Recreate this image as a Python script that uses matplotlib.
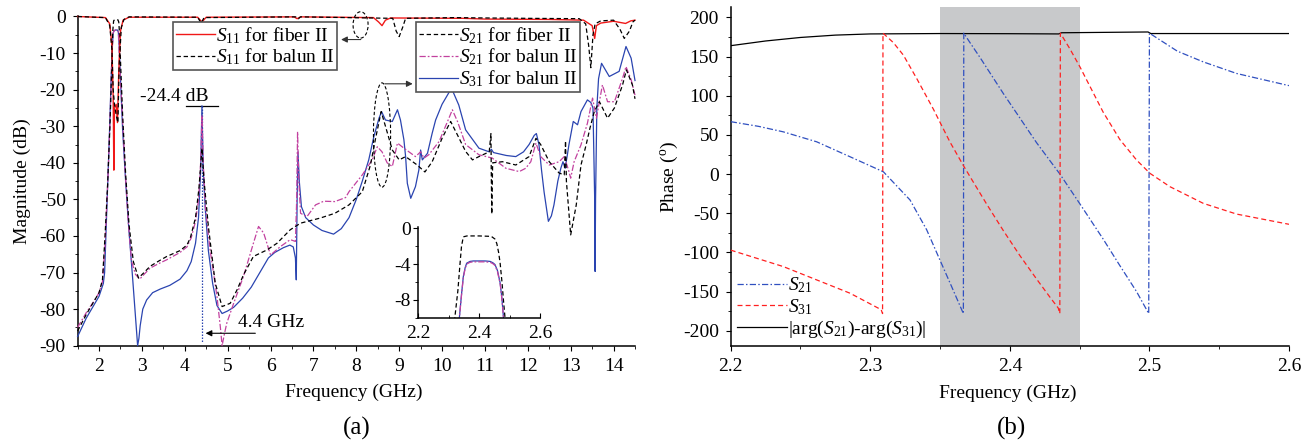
import matplotlib
matplotlib.use("Agg")
import matplotlib.pyplot as plt
from matplotlib.patches import Ellipse
from matplotlib.lines import Line2D
from matplotlib.ticker import MultipleLocator

# ---------------- (a) magnitude responses, 1.5-14.5 GHz ----------------
f_s11_fiber = [1.5, 2.15, 2.25, 2.3, 2.33, 2.345, 2.36, 2.4, 2.43, 2.46, 2.5, 2.56, 2.7,
               4.3, 4.4, 4.5, 6.55, 6.62, 6.7, 8.4, 8.52, 8.6, 8.68, 8.8, 10.5, 11.0,
               12.5, 13.3, 13.5, 13.56, 13.6, 13.7, 14.0, 14.28, 14.4, 14.5]
db_s11_fiber = [0.0, -0.3, -2.0, -8.0, -22.0, -42.0, -25.0, -24.0, -29.0, -15.0, -4.0, -1.0, -0.2,
                -0.2, -1.5, -0.2, -0.1, -0.6, -0.1, -0.3, -1.5, -2.5, -1.0, -0.4, -0.5, -0.7,
                -0.8, -1.0, -2.5, -6.0, -2.5, -1.8, -1.3, -1.9, -1.2, -1.0]

f_s11_balun = [1.5, 2.15, 2.25, 2.3, 2.33, 2.36, 2.4, 2.44, 2.47, 2.52, 2.58, 2.7,
               4.3, 4.38, 4.45, 6.6, 6.65, 6.7, 8.85, 8.93, 9.0, 9.08, 9.15, 10.3,
               11.0, 12.0, 13.2, 13.35, 13.42, 13.47, 13.52, 13.57, 13.7, 14.0, 14.15,
               14.25, 14.37, 14.45, 14.5]
db_s11_balun = [0.0, -0.3, -2.5, -9.0, -20.0, -24.0, -27.0, -29.0, -13.0, -3.0, -0.8, -0.1,
                -0.2, -1.8, -0.3, -0.1, -0.6, -0.1, -0.5, -4.0, -5.5, -3.0, -0.5, -0.3,
                -0.4, -0.5, -0.6, -2.0, -8.0, -14.0, -5.0, -2.0, -1.2, -1.0, -3.5,
                -6.0, -4.0, -1.5, -1.0]

f_s21_fiber = [1.5, 1.7, 1.9, 2.0, 2.08, 2.14, 2.2, 2.26, 2.3, 2.32, 2.34, 2.36, 2.44, 2.46,
               2.48, 2.5, 2.55, 2.62, 2.7, 2.8, 2.92, 3.05, 3.19, 3.4, 3.58, 3.89, 4.05,
               4.13, 4.25, 4.33, 4.4, 4.45, 4.55, 4.71, 4.87, 5.06, 5.22, 5.37, 5.6, 5.92,
               6.15, 6.46, 6.7, 7.16, 7.5, 7.83, 8.14, 8.33, 8.45, 8.58, 8.68, 8.84, 9.0,
               9.15, 9.42, 9.6, 9.77, 10.0, 10.2, 10.36, 10.55, 10.71, 10.86, 11.1, 11.14,
               11.15, 11.16, 11.18, 11.41, 11.72, 12.03, 12.19, 12.3, 12.5, 12.73, 12.85,
               12.88, 12.9, 13.0, 13.13, 13.24, 13.36, 13.45, 13.55, 13.67, 13.86, 14.02,
               14.21, 14.3, 14.44, 14.5]
db_s21_fiber = [-86.0, -81.5, -77.5, -75.5, -72.0, -60.0, -46.0, -28.0, -12.0, -4.0, -1.2, -0.9,
                -0.9, -1.5, -5.0, -12.0, -27.0, -43.0, -57.0, -67.0, -71.5, -70.0, -68.3,
                -66.8, -65.6, -64.0, -62.5, -60.5, -55.0, -47.0, -36.0, -45.0, -57.4, -72.9,
                -79.3, -78.4, -74.7, -70.6, -65.6, -63.8, -62.0, -58.3, -56.5, -55.1, -53.8,
                -51.5, -47.9, -40.6, -33.3, -26.0, -30.0, -36.5, -39.2, -38.3, -40.6, -42.5,
                -39.7, -33.3, -28.7, -32.4, -36.9, -39.2, -38.3, -37.0, -32.0, -45.0, -54.0,
                -40.0, -39.7, -40.6, -38.3, -33.3, -35.0, -39.7, -42.8, -43.3, -34.0, -45.0,
                -59.7, -51.5, -40.6, -35.1, -30.5, -26.0, -23.3, -27.8, -25.0, -18.7, -14.6,
                -18.7, -22.5]

f_s21_balun = [1.5, 1.7, 1.9, 2.0, 2.08, 2.14, 2.18, 2.22, 2.26, 2.3, 2.33, 2.35, 2.38, 2.43,
               2.45, 2.47, 2.53, 2.61, 2.68, 2.76, 2.85, 2.95, 3.05, 3.19, 3.4, 3.58, 3.89,
               4.05, 4.15, 4.25, 4.32, 4.37, 4.4, 4.43, 4.48, 4.59, 4.75, 4.83, 4.87, 4.92,
               4.98, 5.14, 5.37, 5.6, 5.72, 5.84, 6.0, 6.23, 6.46, 6.58, 6.61, 6.63, 6.66,
               6.7, 6.85, 7.05, 7.24, 7.5, 7.75, 7.83, 8.14, 8.37, 8.49, 8.6, 8.72, 8.84,
               8.96, 9.11, 9.38, 9.5, 9.58, 9.69, 9.93, 10.16, 10.24, 10.36, 10.55, 10.86,
               11.17, 11.49, 11.8, 11.95, 12.07, 12.19, 12.3, 12.5, 12.73, 12.85, 12.95,
               13.0, 13.08, 13.24, 13.39, 13.51, 13.6, 13.74, 13.86, 14.02, 14.21, 14.29,
               14.41, 14.5]
db_s21_balun = [-85.0, -81.0, -77.5, -75.5, -72.5, -62.4, -51.5, -40.6, -27.0, -10.5, -4.5, -3.9,
                -3.7, -3.7, -4.2, -10.5, -24.0, -42.4, -56.0, -67.0, -70.5, -71.8, -70.5,
                -68.8, -67.5, -66.5, -64.5, -63.0, -60.5, -56.0, -50.0, -40.0, -27.0, -40.0,
                -52.0, -63.8, -76.5, -85.0, -90.0, -87.0, -83.8, -78.4, -71.0, -62.0, -57.4,
                -59.2, -65.2, -62.9, -61.0, -61.5, -50.0, -31.5, -45.0, -53.8, -54.7, -51.5,
                -50.5, -50.6, -49.5, -47.9, -43.3, -39.2, -35.6, -37.0, -40.0, -41.0, -34.6,
                -36.0, -38.3, -37.0, -38.7, -37.8, -34.2, -27.8, -25.5, -28.7, -35.0, -37.8,
                -38.7, -41.5, -42.4, -41.5, -39.7, -34.6, -38.3, -40.6, -39.7, -38.3, -42.0,
                -44.2, -39.7, -35.1, -29.2, -22.3, -27.8, -18.7, -23.3, -23.3, -16.9, -13.7,
                -17.3, -21.5]

f_s31_balun = [1.5, 1.7, 1.9, 2.0, 2.1, 2.13, 2.16, 2.2, 2.24, 2.28, 2.31, 2.33, 2.35, 2.38,
               2.43, 2.45, 2.47, 2.5, 2.55, 2.62, 2.7, 2.78, 2.85, 2.9, 2.93, 2.96, 3.02,
               3.11, 3.25, 3.43, 3.65, 3.89, 4.05, 4.15, 4.25, 4.32, 4.37, 4.4, 4.43, 4.48,
               4.55, 4.65, 4.75, 4.87, 5.0, 5.14, 5.35, 5.55, 5.75, 5.95, 6.1, 6.3, 6.45,
               6.53, 6.58, 6.6, 6.62, 6.64, 6.67, 6.72, 6.82, 7.0, 7.2, 7.47, 7.65, 7.83,
               8.0, 8.14, 8.29, 8.41, 8.53, 8.59, 8.68, 8.84, 8.96, 9.03, 9.11, 9.15, 9.19,
               9.27, 9.38, 9.46, 9.5, 9.54, 9.66, 9.77, 9.85, 10.0, 10.22, 10.39, 10.55,
               10.86, 11.1, 11.15, 11.2, 11.5, 11.72, 11.9, 12.03, 12.15, 12.2, 12.26, 12.32,
               12.38, 12.48, 12.55, 12.61, 12.7, 12.77, 12.82, 12.87, 12.92, 12.96, 13.06,
               13.16, 13.24, 13.39, 13.47, 13.52, 13.56, 13.57, 13.58, 13.61, 13.65, 13.72,
               13.9, 14.13, 14.29, 14.41, 14.5]
db_s31_balun = [-87.5, -82.5, -78.5, -76.5, -73.0, -70.0, -60.0, -46.0, -33.0, -18.0, -8.0, -4.5,
                -3.9, -3.7, -3.7, -4.2, -8.0, -17.0, -31.0, -45.0, -59.0, -71.0, -82.0, -90.0,
                -88.0, -84.5, -80.0, -77.5, -75.5, -74.5, -73.5, -71.8, -69.5, -67.0, -62.0,
                -55.0, -42.0, -24.4, -42.0, -53.0, -64.0, -73.0, -79.0, -81.2, -80.5, -79.5,
                -77.0, -74.0, -70.0, -66.0, -64.5, -63.2, -62.5, -63.0, -66.0, -72.0, -50.0,
                -37.0, -45.0, -52.0, -55.0, -57.0, -58.5, -59.5, -58.0, -55.0, -50.0, -45.0,
                -39.2, -32.8, -27.8, -26.0, -28.3, -28.7, -25.5, -28.3, -33.7, -38.3, -45.6,
                -49.7, -46.5, -41.9, -36.5, -39.2, -37.4, -31.9, -28.3, -24.0, -19.6, -24.2,
                -31.0, -36.0, -37.0, -36.3, -37.2, -38.0, -38.3, -37.0, -35.0, -32.5, -32.0,
                -35.0, -42.0, -48.0, -56.0, -54.5, -51.5, -45.0, -41.5, -39.7, -41.5, -38.0,
                -35.0, -28.7, -29.6, -26.0, -22.8, -23.5, -25.0, -50.0, -69.7, -50.0, -25.0,
                -17.0, -12.8, -16.4, -15.0, -8.2, -11.4, -17.5]

# inset: passband detail, 2.2-2.6 GHz
f_in_s21_fiber = [2.30, 2.32, 2.33, 2.337, 2.342, 2.348, 2.36, 2.40, 2.44, 2.452, 2.458,
                  2.464, 2.469, 2.475, 2.48, 2.485, 2.50]
db_in_s21_fiber = [-20.0, -10.0, -7.0, -4.0, -2.0, -0.95, -0.85, -0.85, -0.9, -1.2, -1.7,
                   -2.7, -3.9, -6.0, -8.1, -10.0, -20.0]
f_in_balun = [2.31, 2.335, 2.342, 2.348, 2.354, 2.359, 2.37, 2.381, 2.42, 2.436, 2.445,
              2.452, 2.46, 2.469, 2.475, 2.48, 2.49]
db_in_s21_balun = [-20.0, -10.0, -7.5, -5.5, -4.5, -4.0, -3.8, -3.75, -3.75, -3.8, -3.95,
                   -4.15, -4.8, -6.2, -8.0, -10.0, -20.0]
db_in_s31_balun = [-20.0, -10.0, -7.4, -5.4, -4.4, -3.9, -3.7, -3.65, -3.65, -3.7, -3.85,
                   -4.05, -4.7, -6.1, -7.9, -10.0, -20.0]

# markers of the 4.4 GHz spurious peak
spur_freq = 4.4
spur_level = -24.4

# ---------------- (b) phase responses, 2.2-2.6 GHz ----------------
f_ph_s21 = [2.2, 2.22, 2.2377, 2.2616, 2.2855, 2.3094, 2.3285, 2.3404, 2.3499, 2.3583,
            2.3667, 2.3670, 2.3714, 2.3786, 2.3953, 2.4192, 2.4359, 2.4502, 2.4669, 2.4789,
            2.4908, 2.4995, 2.5000, 2.5052, 2.52, 2.5386, 2.5625, 2.6]
ph_s21 = [67.0, 61.0, 54.0, 41.3, 22.2, 3.0, -33.0, -71.0, -109.6, -143.6,
          -178.0, 180.0, 168.0, 149.0, 103.0, 40.0, 0.0, -38.0, -83.0, -117.0,
          -150.0, -178.0, 180.0, 174.0, 157.0, 143.3, 128.5, 113.0]

f_ph_s31 = [2.2, 2.2377, 2.2616, 2.2855, 2.3078, 2.3088, 2.3091, 2.3165, 2.3237, 2.3333,
            2.3452, 2.3571, 2.3667, 2.3714, 2.3833, 2.3953, 2.4072, 2.4192, 2.4287, 2.4347,
            2.4358, 2.4362, 2.443, 2.4502, 2.4669, 2.4789, 2.4908, 2.5004, 2.5147, 2.5386,
            2.5625, 2.6]
ph_s31 = [-97.0, -118.0, -135.0, -152.0, -173.0, -178.0, 180.0, 168.0, 152.0, 122.0,
          83.0, 41.0, 11.0, -3.0, -38.0, -72.0, -104.0, -134.0, -157.0, -171.0,
          -178.0, 180.0, 160.0, 137.0, 79.0, 44.0, 18.0, 1.0, -16.0, -37.3,
          -51.0, -64.0]

f_ph_diff = [2.2, 2.225, 2.25, 2.275, 2.3, 2.35, 2.4, 2.435, 2.437, 2.499, 2.501, 2.6]
ph_diff = [164.0, 170.0, 174.5, 177.5, 179.0, 179.5, 179.3, 179.0, 180.5, 181.5, 179.5, 179.5]

band_lo, band_hi = 2.35, 2.45

# ---------------- styling ----------------
plt.rcParams.update({
    "font.family": ["Liberation Serif", "DejaVu Serif"],
    "font.size": 14,
    "mathtext.fontset": "custom",
    "mathtext.rm": "Liberation Serif",
    "mathtext.it": "Liberation Serif:italic",
    "axes.unicode_minus": False,
    "axes.linewidth": 1.1,
    "xtick.major.size": 3.5,
    "ytick.major.size": 3.5,
    "xtick.minor.size": 2.5,
    "ytick.minor.size": 2.5,
    "xtick.major.pad": 5,
    "ytick.major.pad": 5,
})

RED = "#f01818"
MAG = "#c2419f"
BLUE = "#2a44b0"
DASH = (3.5, 2.2)
DASHDOT = (5.0, 1.6, 1.4, 1.6)

W, H = 1312, 444
fig = plt.figure(figsize=(W / 100, H / 100), dpi=100)


def frac_box(x0, y0, x1, y1):
    return [x0 / W, 1 - y1 / H, (x1 - x0) / W, (y1 - y0) / H]


def clean(ax):
    ax.spines["top"].set_visible(False)
    ax.spines["right"].set_visible(False)
    ax.tick_params(which="both", direction="out", labelsize=14)


ax = fig.add_axes(frac_box(77.6, 16.5, 635, 345.7))
clean(ax)

ax.plot(f_s31_balun, db_s31_balun, color=BLUE, lw=0.9, clip_on=False, zorder=3)
ax.plot(f_s21_balun, db_s21_balun, color=MAG, lw=0.9, dashes=DASHDOT, clip_on=False, zorder=3)
ax.plot(f_s21_fiber, db_s21_fiber, color="k", lw=0.9, dashes=DASH, clip_on=False, zorder=3)
ax.plot(f_s11_fiber, db_s11_fiber, color=RED, lw=1.0, clip_on=False, zorder=4)
ax.plot(f_s11_balun, db_s11_balun, color="k", lw=0.9, dashes=DASH, clip_on=False, zorder=4)

ax.set_xlim(1.5, 14.5)
ax.set_ylim(-90, 0)
ax.xaxis.set_major_locator(MultipleLocator(1))
ax.xaxis.set_minor_locator(MultipleLocator(0.5))
ax.yaxis.set_major_locator(MultipleLocator(10))
ax.yaxis.set_minor_locator(MultipleLocator(5))
ax.set_xticks(range(2, 15))
ax.set_xlabel("Frequency (GHz)", fontsize=14)
ax.set_ylabel("Magnitude (dB)", fontsize=14)
ax.xaxis.set_label_coords(0.496, -0.143)
ax.xaxis.label.set_verticalalignment("center")
ax.yaxis.set_label_coords(-0.1, 0.5)
ax.yaxis.label.set_verticalalignment("center")

# spurious-peak annotation
ax.plot([4.02, 4.78], [spur_level, spur_level], color="k", lw=0.9)
ax.text(2.96, -22.0, "%.1f dB" % spur_level, fontsize=14, ha="left", va="center")
ax.plot([spur_freq, spur_freq], [spur_level, -89], color=BLUE, lw=0.9, ls=(0, (1.2, 1.2)))
ax.annotate("", xy=(spur_freq + 0.02, -86.6), xytext=(5.71, -86.6),
            arrowprops=dict(arrowstyle="-|>", color="k", lw=0.8, mutation_scale=9))
ax.text(5.25, -83.7, "%.1f GHz" % spur_freq, fontsize=14, ha="left", va="center")

# ellipses pointing to the two legends
ax.add_patch(Ellipse((8.1, -2.3), 0.35, 7.2, fill=False, ec="k", lw=0.8,
                     ls=(0, (3, 2)), clip_on=False, zorder=5))
ax.annotate("", xy=(7.58, -6.3), xytext=(8.17, -6.3),
            arrowprops=dict(arrowstyle="-|>", color="#333333", lw=0.8, mutation_scale=9))
ax.add_patch(Ellipse((8.6, -32.4), 0.40, 28.5, fill=False, ec="k", lw=0.8,
                     ls=(0, (3, 2)), zorder=5))
ax.annotate("", xy=(9.38, -18.4), xytext=(8.6, -18.4),
            arrowprops=dict(arrowstyle="-|>", color="#333333", lw=0.8, mutation_scale=9))

h_s11f = Line2D([], [], color=RED, lw=1.0)
h_s11b = Line2D([], [], color="k", lw=0.9, dashes=DASH)
h_s21f = Line2D([], [], color="k", lw=0.9, dashes=DASH)
h_s21b = Line2D([], [], color=MAG, lw=0.9, dashes=DASHDOT)
h_s31b = Line2D([], [], color=BLUE, lw=0.9)

leg_kw = dict(loc="upper left", borderaxespad=0, fontsize=14, handlelength=2.0,
              handletextpad=0.05, borderpad=0.15, labelspacing=0.05, frameon=True,
              fancybox=False, edgecolor="#555555", framealpha=1)
leg1 = ax.legend([h_s11f, h_s11b],
                 [r"$S_{11}$ for fiber II", r"$S_{11}$ for balun II"],
                 bbox_to_anchor=(0.171, 0.983), **leg_kw)
leg1.get_frame().set_linewidth(1.2)
ax.add_artist(leg1)
leg2 = ax.legend([h_s21f, h_s21b, h_s31b],
                 [r"$S_{21}$ for fiber II", r"$S_{21}$ for balun II", r"$S_{31}$ for balun II"],
                 bbox_to_anchor=(0.607, 0.983), **leg_kw)
leg2.get_frame().set_linewidth(1.2)

# inset
axi = fig.add_axes(frac_box(418.3, 227, 540, 317.7))
axi.patch.set_alpha(0)
clean(axi)
axi.plot(f_in_s21_fiber, db_in_s21_fiber, color="k", lw=0.9, dashes=DASH)
axi.plot(f_in_balun, db_in_s31_balun, color=BLUE, lw=0.9)
axi.plot(f_in_balun, db_in_s21_balun, color=MAG, lw=0.9, dashes=DASHDOT)
axi.set_xlim(2.2, 2.6)
axi.set_ylim(-10, 0.15)
axi.xaxis.set_major_locator(MultipleLocator(0.2))
axi.xaxis.set_minor_locator(MultipleLocator(0.1))
axi.yaxis.set_major_locator(MultipleLocator(4))
axi.yaxis.set_minor_locator(MultipleLocator(2))
axi.set_xticks([2.2, 2.4, 2.6])
axi.set_xticklabels(["2.2", "2.4", "2.6"])
axi.set_yticks([0, -4, -8])
axi.tick_params(axis="x", which="both", direction="in")
axi.tick_params(axis="y", which="major", pad=2)

fig.text(357 / W, 1 - 428 / H, "(a)", fontsize=18, ha="center", va="center")

# ---------------- (b) ----------------
bx = fig.add_axes(frac_box(730.7, 7.3, 1289, 345.7))
clean(bx)
bx.axvspan(band_lo, band_hi, color="#c8c9cb", lw=0, zorder=0)
bx.plot(f_ph_diff, ph_diff, color="k", lw=0.9, label=r"|arg($S_{21}$)-arg($S_{31}$)|", zorder=3)
l21, = bx.plot(f_ph_s21, ph_s21, color="#3050c0", lw=0.9, dashes=(5, 1.8, 1.2, 1.8),
               label=r"$S_{21}$", zorder=3)
l31, = bx.plot(f_ph_s31, ph_s31, color="#ff2020", lw=0.9, dashes=(4, 2.5),
               label=r"$S_{31}$", zorder=3)
bx.set_xlim(2.2, 2.6)
bx.set_ylim(-219, 213)
bx.xaxis.set_major_locator(MultipleLocator(0.1))
bx.xaxis.set_minor_locator(MultipleLocator(0.05))
bx.yaxis.set_major_locator(MultipleLocator(50))
bx.yaxis.set_minor_locator(MultipleLocator(25))
bx.set_xticks([2.2, 2.3, 2.4, 2.5, 2.6])
bx.set_xticklabels(["2.2", "2.3", "2.4", "2.5", "2.6"])
bx.set_yticks(range(-200, 201, 50))
bx.set_xlabel("Frequency (GHz)", fontsize=14)
bx.set_ylabel(r"Phase ($^{\mathrm{o}}$)", fontsize=14)
bx.xaxis.set_label_coords(0.496, -0.14)
bx.xaxis.label.set_verticalalignment("center")
bx.yaxis.set_label_coords(-0.109, 0.5)
bx.yaxis.label.set_verticalalignment("center")
h_list = [l21, l31, bx.lines[0]]
bx.legend(h_list, [h.get_label() for h in h_list], loc="lower left",
          bbox_to_anchor=(0.0, 0.0), borderaxespad=0, frameon=False, fontsize=14,
          handlelength=2.6, handletextpad=0.05, labelspacing=0.1, borderpad=0.3)

fig.text(1011 / W, 1 - 428 / H, "(b)", fontsize=18, ha="center", va="center")

fig.savefig("out.png", dpi=100)
